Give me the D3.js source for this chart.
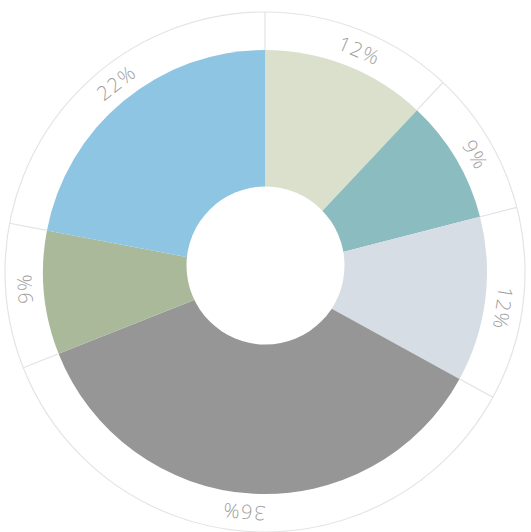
<!DOCTYPE html>
<html>
<head>
<meta charset="utf-8">
<script src="https://cdn.jsdelivr.net/npm/d3@7"></script>
<style>
  html, body { margin: 0; padding: 0; background: #fff; }
  svg { display: block; }
</style>
</head>
<body>
<svg id="chart" width="531" height="532"></svg>
<script>
const categories = ["A", "B", "C", "D", "E", "F"];
const values = [12, 9, 12, 36, 9, 22];
const labels = ["12%", "9%", "12%", "36%", "9%", "22%"];
const colors = ["#dae0cc", "#8bbcc0", "#d7dde5", "#969696", "#aab99a", "#8ec5e2"];

const svg = d3.select("#chart");
const cx = 265, cy = 272;
const rPie = 222, rRing = 260, rHole = 79, rLabel = 241;

const g = svg.append("g").attr("transform", `translate(${cx},${cy})`);

const pie = d3.pie().sort(null).value(d => d.value);
const data = pie(categories.map((c, i) => ({ cat: c, value: values[i], label: labels[i], color: colors[i] })));

// outer ring circle
g.append("circle")
  .attr("r", rRing)
  .attr("fill", "none")
  .attr("stroke", "#e4e4e4")
  .attr("stroke-width", 1.2);

// slices
const arc = d3.arc().innerRadius(0).outerRadius(rPie);
g.selectAll("path.slice").data(data).enter().append("path")
  .attr("class", "slice")
  .attr("d", arc)
  .attr("fill", d => d.data.color);

// separators in the ring
g.selectAll("line.sep").data(data).enter().append("line")
  .attr("class", "sep")
  .attr("x1", d => rPie * Math.sin(d.startAngle))
  .attr("y1", d => -rPie * Math.cos(d.startAngle))
  .attr("x2", d => rRing * Math.sin(d.startAngle))
  .attr("y2", d => -rRing * Math.cos(d.startAngle))
  .attr("stroke", "#dfe3e8")
  .attr("stroke-width", 1.2);

// hole
g.append("circle")
  .attr("cx", 0.5)
  .attr("cy", -6.5)
  .attr("r", rHole)
  .attr("fill", "#fff");

// labels
g.selectAll("text.lbl").data(data).enter().append("text")
  .attr("class", "lbl")
  .attr("transform", d => {
    const a = (d.startAngle + d.endAngle) / 2 * 180 / Math.PI + 1.5;
    return `rotate(${a}) translate(0,${-rLabel})`;
  })
  .attr("text-anchor", "middle")
  .attr("dominant-baseline", "central")
  .attr("font-family", "'Open Sans', sans-serif")
  .attr("font-weight", 300)
  .attr("font-size", 20)
  .attr("letter-spacing", 1.5)
  .attr("fill", "#a0a0a0")
  .text(d => d.data.label);
</script>
</body>
</html>
